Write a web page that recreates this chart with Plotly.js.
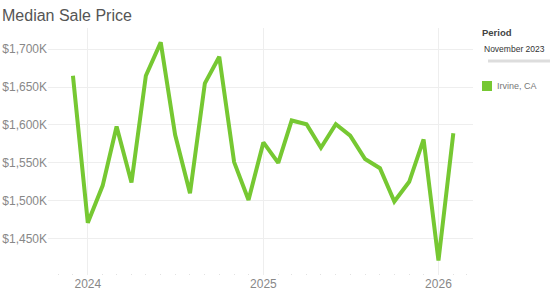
<!DOCTYPE html>
<html>
<head>
<meta charset="utf-8">
<script src="https://cdn.plot.ly/plotly-3.0.1.min.js"></script>
<style>
html,body{margin:0;padding:0;background:#fff;}
#chart{width:550px;height:300px;}
</style>
</head>
<body>
<div id="chart"></div>
<script>
// Data (monthly median sale price, USD)
const months = ['2023-12-01','2024-01-01','2024-02-01','2024-03-01','2024-04-01','2024-05-01','2024-06-01','2024-07-01','2024-08-01','2024-09-01','2024-10-01','2024-11-01','2024-12-01','2025-01-01','2025-02-01','2025-03-01','2025-04-01','2025-05-01','2025-06-01','2025-07-01','2025-08-01','2025-09-01','2025-10-01','2025-11-01','2025-12-01','2026-01-01','2026-02-01'];
const prices = [1665000,1471000,1520000,1598000,1524000,1665000,1709000,1587000,1510000,1655000,1690000,1551000,1501000,1577000,1550000,1606000,1601000,1570000,1601000,1586000,1555000,1543000,1499000,1525000,1581000,1421000,1589000];
const seriesName = 'Irvine, CA';
const yTickVals = [1450000,1500000,1550000,1600000,1650000,1700000];
const yTickText = ['$1,450K','$1,500K','$1,550K','$1,600K','$1,650K','$1,700K'];
const titleText = 'Median Sale Price';
const periodTitle = 'Period';
const periodValue = 'November 2023';

const green = '#76c832';
const font = 'Liberation Sans, Arial, sans-serif';

const trace = {
  x: months, y: prices, type: 'scatter', mode: 'lines', name: seriesName,
  line: {color: green, width: 4, shape: 'linear'},
  showlegend: false, hoverinfo: 'x+y'
};

const layout = {
  width: 550, height: 300,
  margin: {l: 48, r: 77, t: 28, b: 25},
  paper_bgcolor: '#fff', plot_bgcolor: '#fff',
  font: {family: font, color: '#888', size: 12},
  title: {text: titleText, x: 2/550, xanchor: 'left', xref: 'container', y: 1 - 15/300, yref: 'container', yanchor: 'middle',
          font: {family: font, size: 16, color: '#555'}},
  xaxis: {
    type: 'date', range: ['2023-10-10', '2026-03-14'],
    dtick: 'M12', tick0: '2024-01-01', tickformat: '%Y',
    showgrid: true, gridcolor: '#eeeeee', gridwidth: 1,
    zeroline: false, showline: false, ticks: '',
    tickfont: {family: font, size: 12, color: '#888'},
    minor: {dtick: 'M1', tick0: '2024-01-01', ticks: 'inside', ticklen: 1, tickcolor: '#e2e2e2', tickwidth: 1, showgrid: false}
  },
  yaxis: {
    range: [1402000, 1728000],
    tickvals: yTickVals, ticktext: yTickText,
    showgrid: true, gridcolor: '#eeeeee', gridwidth: 1,
    zeroline: false, showline: false, ticks: '',
    tickfont: {family: font, size: 12, color: '#888'}
  },
  shapes: [
    {type: 'line', xref: 'paper', yref: 'paper', x0: (488-48)/425, x1: (552-48)/425, y0: 1-(61-28)/247, y1: 1-(61-28)/247,
     line: {color: '#dddddd', width: 3}},
    {type: 'rect', xref: 'paper', yref: 'paper', x0: (482-48)/425, x1: (492-48)/425, y0: 1-(91-28)/247, y1: 1-(81-28)/247,
     fillcolor: green, line: {width: 0}}
  ],
  annotations: [
    {text: '<b>' + periodTitle + '</b>', xref: 'paper', yref: 'paper', x: (480-48)/425, y: 1-(33-28)/247,
     xanchor: 'left', yanchor: 'middle', showarrow: false, font: {family: font, size: 9.5, color: '#444'}},
    {text: periodValue, xref: 'paper', yref: 'paper', x: (482-48)/425, y: 1-(49-28)/247,
     xanchor: 'left', yanchor: 'middle', showarrow: false, font: {family: font, size: 8.5, color: '#333'}},
    {text: seriesName, xref: 'paper', yref: 'paper', x: (495-48)/425, y: 1-(86-28)/247,
     xanchor: 'left', yanchor: 'middle', showarrow: false, font: {family: font, size: 9, color: '#777'}}
  ]
};

Plotly.newPlot('chart', [trace], layout, {displayModeBar: false, staticPlot: true});
</script>
</body>
</html>
